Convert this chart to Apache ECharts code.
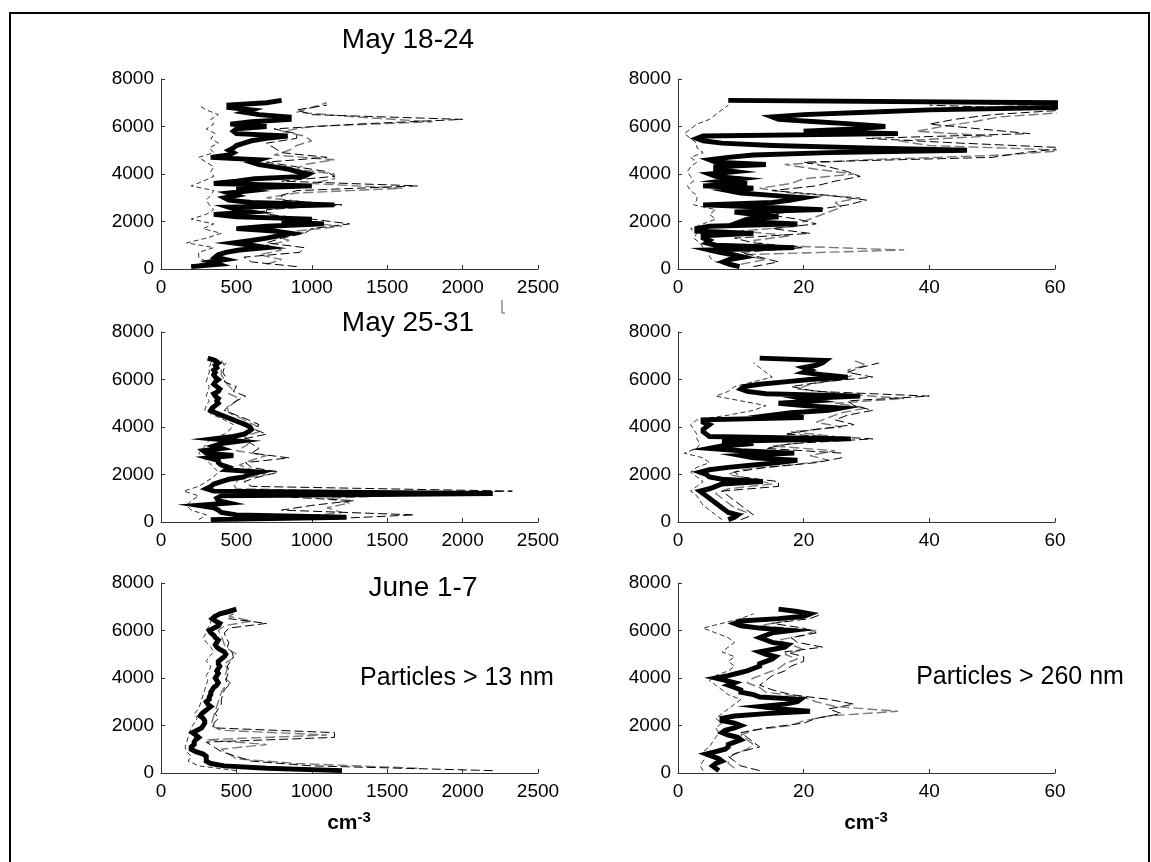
<!DOCTYPE html>
<html><head><meta charset="utf-8">
<script src="https://cdn.jsdelivr.net/npm/echarts@6/dist/echarts.min.js"></script>
<style>html,body{margin:0;padding:0;background:#fff}#c{width:1151px;height:862px}</style>
</head><body><div id="c"></div>
<script>
// Altitude levels (m)
const altFine = [100,200,300,400,500,600,700,800,900,1000,1100,1200,1300,1400,1500,1600,1700,1800,1900,2000,2100,2200,2300,2400,2500,2600,2700,2800,2900,3000,3100,3200,3300,3400,3500,3600,3700,3800,3900,4000,4100,4200,4300,4400,4500,4600,4700,4800,4900,5000,5100,5200,5300,5400,5500,5600,5700,5800,5900,6000,6100,6200,6300,6400,6500,6600,6700,6800,6900,7000,7100];
const altOdd = [100,300,500,700,900,1100,1300,1500,1700,1900,2100,2300,2500,2700,2900,3100,3300,3500,3700,3900,4100,4300,4500,4700,4900,5100,5300,5500,5700,5900,6100,6300,6500,6700,6900];
const altEven = [200,400,600,800,1000,1200,1400,1600,1800,2000,2200,2400,2600,2800,3000,3200,3400,3600,3800,4000,4200,4400,4600,4800,5000,5200,5400,5600,5800,6000,6200,6400,6600,6800,7000];

// Panel 1: May 18-24, particles > 13 nm
const p1Mean = [200,380,330,430,360,380,430,520,700,600,480,600,700,780,860,750,500,700,1080,800,1000,500,350,600,500,450,1150,600,450,420,500,450,600,500,1000,350,500,620,950,980,900,850,750,650,600,650,330,450,480,450,480,500,550,600,700,840,500,480,500,700,460,600,850,850,650,550,600,450,450,700,800];
const p1Upper = [900,600,550,920,950,700,800,950,1000,1250,1000,700,700,1200,800,800,900,1700,800,1150,1100,900,700,1100,800,750,700,900,900,750,1300,2000,1000,900,1100];
const p1Gray = [700,800,650,800,700,850,750,900,1200,900,800,650,800,1000,700,900,1600,1000,1150,1150,900,950,1150,750,850,900,1000,950,800,1000,1800,1300,900,1000,1100];
const p1Lower = [200,300,250,250,350,170,300,400,280,350,200,300,350,320,300,330,350,200,280,350,330,350,300,250,350,320,380,330,360,300,350,330,380,300,250];

// Panel 2: May 18-24, particles > 260 nm
const p2Mean = [9.8,8.2,7.2,8.2,10.4,8.8,6.6,5,18.5,6,4.5,5,4,4,12,3,3,5,19,10,11,16,12,9,23,14,4,15,18,20,15,10,8,12,4,11,7,10,6,5,9,6,6,14,6,5,8,12,24,46,30,15,7,4,3,4,35,20,28,33,28,22,16,15,20,30,40,60,62,62,8];
const p2Upper = [12,16,13,10,20,12,9,21,15,22,19,14,22,27,30,24,15,22,25,29,27,24,20,50,55,62,45,30,56,48,40,44,50,62,40];
const p2Gray = [10,14,10,36,14,12,18,10,19,20,22,24,26,25,29,18,13,18,20,28,22,17,30,52,62,40,35,50,38,42,47,51,62,62,45];
const p2Lower = [9,6,5,5,4,3.5,2.5,3,2,4,6,5,6,2.5,3,3,2,1.5,2.5,2,1.5,2,3,2,4,3,3,2,1,2,3,5,6,7,8];

// Panel 3: May 25-31, particles > 13 nm
const p3Mean = [330,1230,500,400,380,350,250,450,380,370,400,2200,350,300,330,350,400,450,550,580,650,430,450,400,380,380,320,480,300,280,400,350,400,520,350,480,550,580,600,590,560,520,480,440,400,360,330,340,360,380,370,380,360,350,380,390,370,350,360,380,360,350,360,350,370,360,380,360,310];
const p3Upper = [1000,1680,800,1000,1280,700,2330,600,550,650,780,600,560,850,600,650,600,550,700,620,650,580,500,420,450,500,560,480,500,420,430,410,420,430];
const p3Gray = [900,1200,1100,1250,1100,1900,500,480,520,700,600,520,600,700,500,560,600,550,650,650,580,520,450,440,480,520,450,470,440,420,400,400,420,400];
const p3Lower = [250,300,200,170,200,250,150,250,300,350,380,350,320,280,250,280,300,330,420,460,480,420,350,290,300,320,300,310,320,300,310,320,320,330];

// Panel 4: May 25-31, particles > 260 nm
const p4Mean = [8,9,9.5,8,7.5,7,6.5,6,5.5,5,4.5,4,3.5,5,6,7,13.5,7,5,4.5,3.5,5,8,12,16,19,12,10,18.5,10,5,7,12,7,27.5,5,4.5,4,4,4.5,5,4,4,20,15,18,24,26,20,16,22,20,29,14,11,10,10.5,13,17,21,27,23,20,21,20,22,23,23.5,13];
const p4Upper = [10,12,11,10,9,8,7,16,16,10,9,14,22,26,26,14,18,31,17,22,28,25,27,31,28,27,40,22,18,23,31,27,29,32];
const p4Gray = [9,11,9,8,7,6,8,15,12,8,10,18,24,21,25,15,22,25,18,26,22,24,26,30,25,36,26,19,21,26,28,27,30,28];
const p4Lower = [7,6,5,4,3.5,3,2,3,4,3,2,3,5,4,1,3,3.5,3,3,2.5,2,3,8,12,14,10,6,8,9,12,15,14,13,12];

// Panel 5: June 1-7, particles > 13 nm
const p5Mean = [1200,700,420,330,300,300,300,280,230,200,200,220,220,230,250,230,210,240,270,280,290,290,280,260,270,290,310,330,310,300,320,320,330,330,340,350,370,380,370,360,370,380,370,380,390,380,380,400,420,430,420,390,370,360,370,380,360,350,330,320,350,380,390,360,340,360,390,450,500];
const p5Upper = [2200,1000,600,500,400,350,300,1150,1150,350,350,380,360,380,400,400,410,420,450,430,440,450,440,460,480,470,440,450,430,420,450,700,450,480];
const p5Gray = [1700,900,500,450,400,700,300,1100,400,330,340,350,360,370,380,390,400,420,460,420,430,440,420,470,500,450,420,410,400,380,420,600,450,500];
const p5Lower = [500,250,180,200,170,160,170,180,190,200,220,240,220,250,260,270,280,290,300,310,300,320,330,300,320,350,330,300,280,300,310,330,330,350];

// Panel 6: June 1-7, particles > 260 nm
const p6Mean = [6.5,6,5.5,6,7,6.5,5.5,4.5,6,7.5,8,8,9,10,9.5,8,7,7.5,9,10,9,7,7,9,14,21,16,13,17,19,19.5,13,12,10,10,9,8,9,7.5,6,8,9.5,11,12,13,13,14,15,15.5,14,13,15,17,17.5,15,14,13,14,15,18,13,10,9,10,16,20,21,19,16];
const p6Upper = [13,10,9,8,10,13,12,11,10,14,20,22,26,24,28,24,18,15,13,14,15,17,18,20,20,17,23,19,18,22,20,15,21,23];
const p6Gray = [9,8,8,9,11,12,11,10,12,18,20,24,35,25,22,20,14,13,11,12,14,16,17,19,17,20,18,16,20,22,13,17,21,22];
const p6Lower = [4,3.5,4,4.5,4,5,5.5,6,6.5,6,7,6,7,8,9,10,8,7,6,5,6,8,9,8,9,7,8,9,8,6,4,7,10,12];

// Axis ticks
const altTicks = {min: 0, max: 8000, interval: 2000};
const smallTicks = {min: 0, max: 2500, interval: 500};
const largeTicks = {min: 0, max: 60, interval: 20};

const panelTexts = ['May 18-24', 'May 25-31', 'June 1-7'];
const sizeTexts = ['Particles > 13 nm', 'Particles > 260 nm'];

const FONT = 'Liberation Sans, Arial, sans-serif';
const panels = [
  {mean:p1Mean, up:p1Upper, gray:p1Gray, low:p1Lower, x:smallTicks},
  {mean:p2Mean, up:p2Upper, gray:p2Gray, low:p2Lower, x:largeTicks},
  {mean:p3Mean, up:p3Upper, gray:p3Gray, low:p3Lower, x:smallTicks},
  {mean:p4Mean, up:p4Upper, gray:p4Gray, low:p4Lower, x:largeTicks},
  {mean:p5Mean, up:p5Upper, gray:p5Gray, low:p5Lower, x:smallTicks},
  {mean:p6Mean, up:p6Upper, gray:p6Gray, low:p6Lower, x:largeTicks}
];
const lefts = [161, 678];
const tops = [79, 332, 583];

function zip(alt, vals) { return vals.map((v, i) => [v, alt[i]]); }
const plain = v => String(v);

const grid = [], xAxis = [], yAxis = [], series = [];
panels.forEach((p, i) => {
  const col = i % 2, row = Math.floor(i / 2);
  grid.push({left: lefts[col], top: tops[row], width: 377, height: 190});
  const axisCommon = {
    type: 'value', gridIndex: i, splitLine: {show: false},
    axisLine: {show: true, lineStyle: {color: '#333', width: 1}},
    axisTick: {show: true, inside: true, length: 4, lineStyle: {color: '#333'}}
  };
  const lab = {color: '#000', fontSize: 19, fontFamily: FONT, formatter: plain};
  xAxis.push(Object.assign({}, axisCommon, {min: p.x.min, max: p.x.max, interval: p.x.interval,
    axisLabel: Object.assign({}, lab, {margin: 9})}));
  yAxis.push(Object.assign({}, axisCommon, {min: altTicks.min, max: altTicks.max, interval: altTicks.interval,
    axisLabel: Object.assign({}, lab, {margin: 7})}));
  const base = {type: 'line', xAxisIndex: i, yAxisIndex: i, showSymbol: false, symbol: 'none', animation: false, silent: true};
  series.push(Object.assign({}, base, {data: zip(altOdd, p.low), lineStyle: {color: '#000', width: 0.8, type: [5, 3]}}));
  series.push(Object.assign({}, base, {data: zip(altEven, p.gray), lineStyle: {color: '#7a7a7a', width: 1.4, type: [10, 4]}}));
  series.push(Object.assign({}, base, {data: zip(altOdd, p.up), lineStyle: {color: '#000', width: 1, type: [9, 4]}}));
  series.push(Object.assign({}, base, {data: zip(altFine, p.mean), lineStyle: {color: '#000', width: 5, join: 'miter'}}));
});

const txt = (x, y, text, size) => ({type: 'text', x: x, y: y, style: {text: text, fill: '#000', font: size + 'px ' + FONT, textAlign: 'center', textVerticalAlign: 'middle'}});
const cm = (x, y) => ({type: 'text', x: x, y: y, style: {
  text: '{b|cm}{s|-3}', textAlign: 'center', textVerticalAlign: 'middle',
  rich: {b: {font: 'bold 21px ' + FONT, fill: '#000', verticalAlign: 'bottom'},
         s: {font: 'bold 15px ' + FONT, fill: '#000', verticalAlign: 'top', padding: [0, 0, 9, 0]}}}});

const option = {
  animation: false,
  backgroundColor: '#fff',
  grid, xAxis, yAxis, series,
  graphic: [
    {type: 'rect', shape: {x: 10, y: 13, width: 1139, height: 900}, style: {fill: 'none', stroke: '#000', lineWidth: 2}},
    {type: 'line', shape: {x1: 502, y1: 300, x2: 502, y2: 313}, style: {stroke: '#555', lineWidth: 1}},
    {type: 'line', shape: {x1: 502, y1: 313, x2: 505, y2: 313}, style: {stroke: '#555', lineWidth: 1}},
    txt(408, 40, panelTexts[0], 28),
    txt(408, 323, panelTexts[1], 28),
    txt(423, 588, panelTexts[2], 28),
    txt(457, 678, sizeTexts[0], 25),
    txt(1020, 677, sizeTexts[1], 25),
    cm(349, 822),
    cm(866, 822)
  ]
};
echarts.init(document.getElementById('c')).setOption(option);
</script></body></html>
